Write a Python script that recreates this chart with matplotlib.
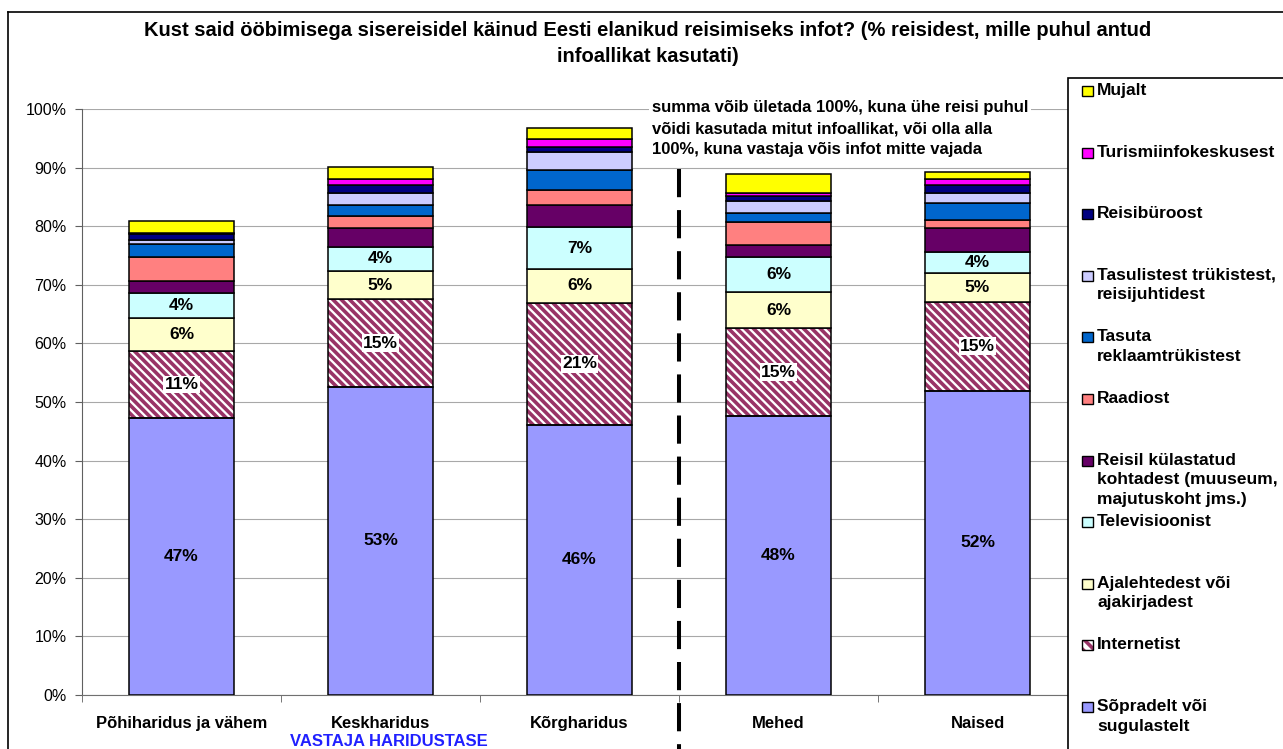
import matplotlib
matplotlib.use("Agg")
import matplotlib.pyplot as plt
from matplotlib.patches import Rectangle
from matplotlib.lines import Line2D
import numpy as np

plt.rcParams['font.family'] = ['Liberation Sans', 'DejaVu Sans']

categories = ["Põhiharidus ja vähem", "Keskharidus", "Kõrgharidus", "Mehed", "Naised"]

# series from bottom to top (%)
sopradelt = [47.3, 52.6, 46.1, 47.6, 51.9]
internetist = [11.4, 14.9, 20.8, 15.0, 15.2]
ajalehtedest = [5.6, 4.9, 5.8, 6.1, 4.9]
televisioonist = [4.3, 4.1, 7.1, 6.0, 3.6]
reisil = [2.1, 3.2, 3.8, 2.1, 4.1]
raadiost = [4.1, 2.0, 2.6, 3.9, 1.4]
tasuta = [2.2, 2.0, 3.4, 1.6, 2.8]
tasulistest = [0.6, 2.0, 3.1, 2.0, 1.7]
reisiburoost = [1.0, 1.4, 0.8, 0.9, 1.5]
turismiinfo = [0.3, 0.9, 1.3, 0.5, 1.0]
mujalt = [2.0, 2.1, 2.0, 3.2, 1.1]

series = [sopradelt, internetist, ajalehtedest, televisioonist, reisil, raadiost,
          tasuta, tasulistest, reisiburoost, turismiinfo, mujalt]
names = ["Sõpradelt või\nsugulastelt", "Internetist", "Ajalehtedest või\najakirjadest",
         "Televisioonist", "Reisil külastatud\nkohtadest (muuseum,\nmajutuskoht jms.)",
         "Raadiost", "Tasuta\nreklaamtrükistest", "Tasulistest trükistest,\nreisijuhtidest",
         "Reisibüroost", "Turismiinfokeskusest", "Mujalt"]
colors = ["#9999FF", "white", "#FFFFCC", "#CCFFFF", "#660066", "#FF8080",
          "#0066CC", "#CCCCFF", "#000080", "#FF00FF", "#FFFF00"]
labelled = 4  # first four series carry value labels
HATCH = "\\\\\\\\"

W, H = 1283, 749
fig = plt.figure(figsize=(W / 100, H / 100), dpi=100)
ax = fig.add_axes([82 / W, 1 - 695 / H, 995 / W, 586 / H])

x = np.arange(len(categories))
bottom = np.zeros(len(categories))
plt.rcParams['hatch.linewidth'] = 2.6
for i, vals in enumerate(series):
    vals = np.array(vals)
    if i == 1:
        ax.bar(x, vals, 0.53, bottom=bottom, color="white", edgecolor="#993366",
               hatch=HATCH, linewidth=0, zorder=2)
        ax.bar(x, vals, 0.53, bottom=bottom, color="none", edgecolor="black",
               linewidth=1.1, zorder=3)
    else:
        ax.bar(x, vals, 0.53, bottom=bottom, color=colors[i], edgecolor="black",
               linewidth=1.1, zorder=3)
    if i < labelled:
        for xi, b, v in zip(x, bottom, vals):
            ax.text(xi, b + v / 2, f"{v:.0f}%", ha="center", va="center",
                    fontsize=12.5, fontweight="bold", zorder=5,
                    bbox=dict(facecolor="white", edgecolor="none", pad=1) if i == 1 else None)
    bottom += vals

ax.set_xlim(-0.5, 4.5)
ax.set_ylim(0, 100)
ax.set_yticks(np.arange(0, 101, 10))
ax.set_yticklabels([f"{v}%" for v in range(0, 101, 10)], fontsize=11.5)
ax.yaxis.grid(True, color="#A8A8A8", linewidth=0.8, zorder=0)
ax.set_axisbelow(True)
ax.set_xticks(x)
ax.set_xticklabels(categories, fontsize=12, fontweight="bold")
ax.set_xticks(np.arange(-0.5, 5, 1), minor=True)
ax.tick_params(axis="x", which="major", length=0, pad=15)
ax.tick_params(axis="x", which="minor", length=5, color="#606060", direction="out")
ax.tick_params(axis="y", length=5, color="#606060", pad=6)
for s in ["top", "right"]:
    ax.spines[s].set_visible(False)
ax.spines["left"].set_color("#606060")
ax.spines["bottom"].set_color("#707070")

# dashed separator between education and gender groups
ax.plot([2.5, 2.5], [(695 - 169) / 5.86, -(749 - 695) / 5.86], color="black",
        linewidth=2.9, dashes=(7, 3.2), clip_on=False, zorder=4)

fig.text(652 / W, 1 - 100 / H,
         "summa võib ületada 100%, kuna ühe reisi puhul\nvõidi kasutada mitut infoallikat, või olla alla\n100%, kuna vastaja võis infot mitte vajada",
         ha="left", va="top", fontsize=12, fontweight="bold", linespacing=1.5,
         bbox=dict(facecolor="white", edgecolor="none", pad=2), zorder=6)

fig.text(648 / W, 1 - 31 / H,
         "Kust said ööbimisega sisereisidel käinud Eesti elanikud reisimiseks infot? (% reisidest, mille puhul antud",
         ha="center", va="center", fontsize=14.5, fontweight="bold")
fig.text(648 / W, 1 - 57 / H, "infoallikat kasutati)", ha="center", va="center",
         fontsize=14.5, fontweight="bold")
fig.text(389 / W, 1 - 742 / H, "VASTAJA HARIDUSTASE", ha="center", va="center",
         fontsize=12, fontweight="bold", color="#2020FF")

# chart border (left/top)
fig.add_artist(Line2D([8 / W, 8 / W], [0, 1 - 12 / H], color="black", linewidth=1.2))
fig.add_artist(Line2D([8 / W, 1], [1 - 12 / H, 1 - 12 / H], color="black", linewidth=1.2))

# legend box
fig.add_artist(Rectangle((1068 / W, -0.1), 0.2, 1.1 - 78 / H, transform=fig.transFigure,
                         facecolor="white", edgecolor="black", linewidth=1.2, zorder=7))
for k, i in enumerate(range(len(series) - 1, -1, -1)):
    yc = 91 + 61.6 * k
    if i == 1:
        fig.add_artist(Rectangle((1082 / W, 1 - (yc + 5) / H), 11 / W, 10 / H,
                                 transform=fig.transFigure, facecolor="white",
                                 edgecolor="#993366", linewidth=0, zorder=8,
                                 hatch="\\\\\\"))
        fig.add_artist(Rectangle((1082 / W, 1 - (yc + 5) / H), 11 / W, 10 / H,
                                 transform=fig.transFigure, facecolor="none",
                                 edgecolor="black", linewidth=1.0, zorder=8))
    else:
        fig.add_artist(Rectangle((1082 / W, 1 - (yc + 5) / H), 11 / W, 10 / H,
                                 transform=fig.transFigure, facecolor=colors[i],
                                 edgecolor="black", linewidth=1.0, zorder=8))
    fig.text(1097 / W, 1 - (yc - 8) / H, names[i], ha="left", va="top",
             fontsize=12.5, fontweight="bold", linespacing=1.38, zorder=9)

fig.savefig("out.png", dpi=100)
